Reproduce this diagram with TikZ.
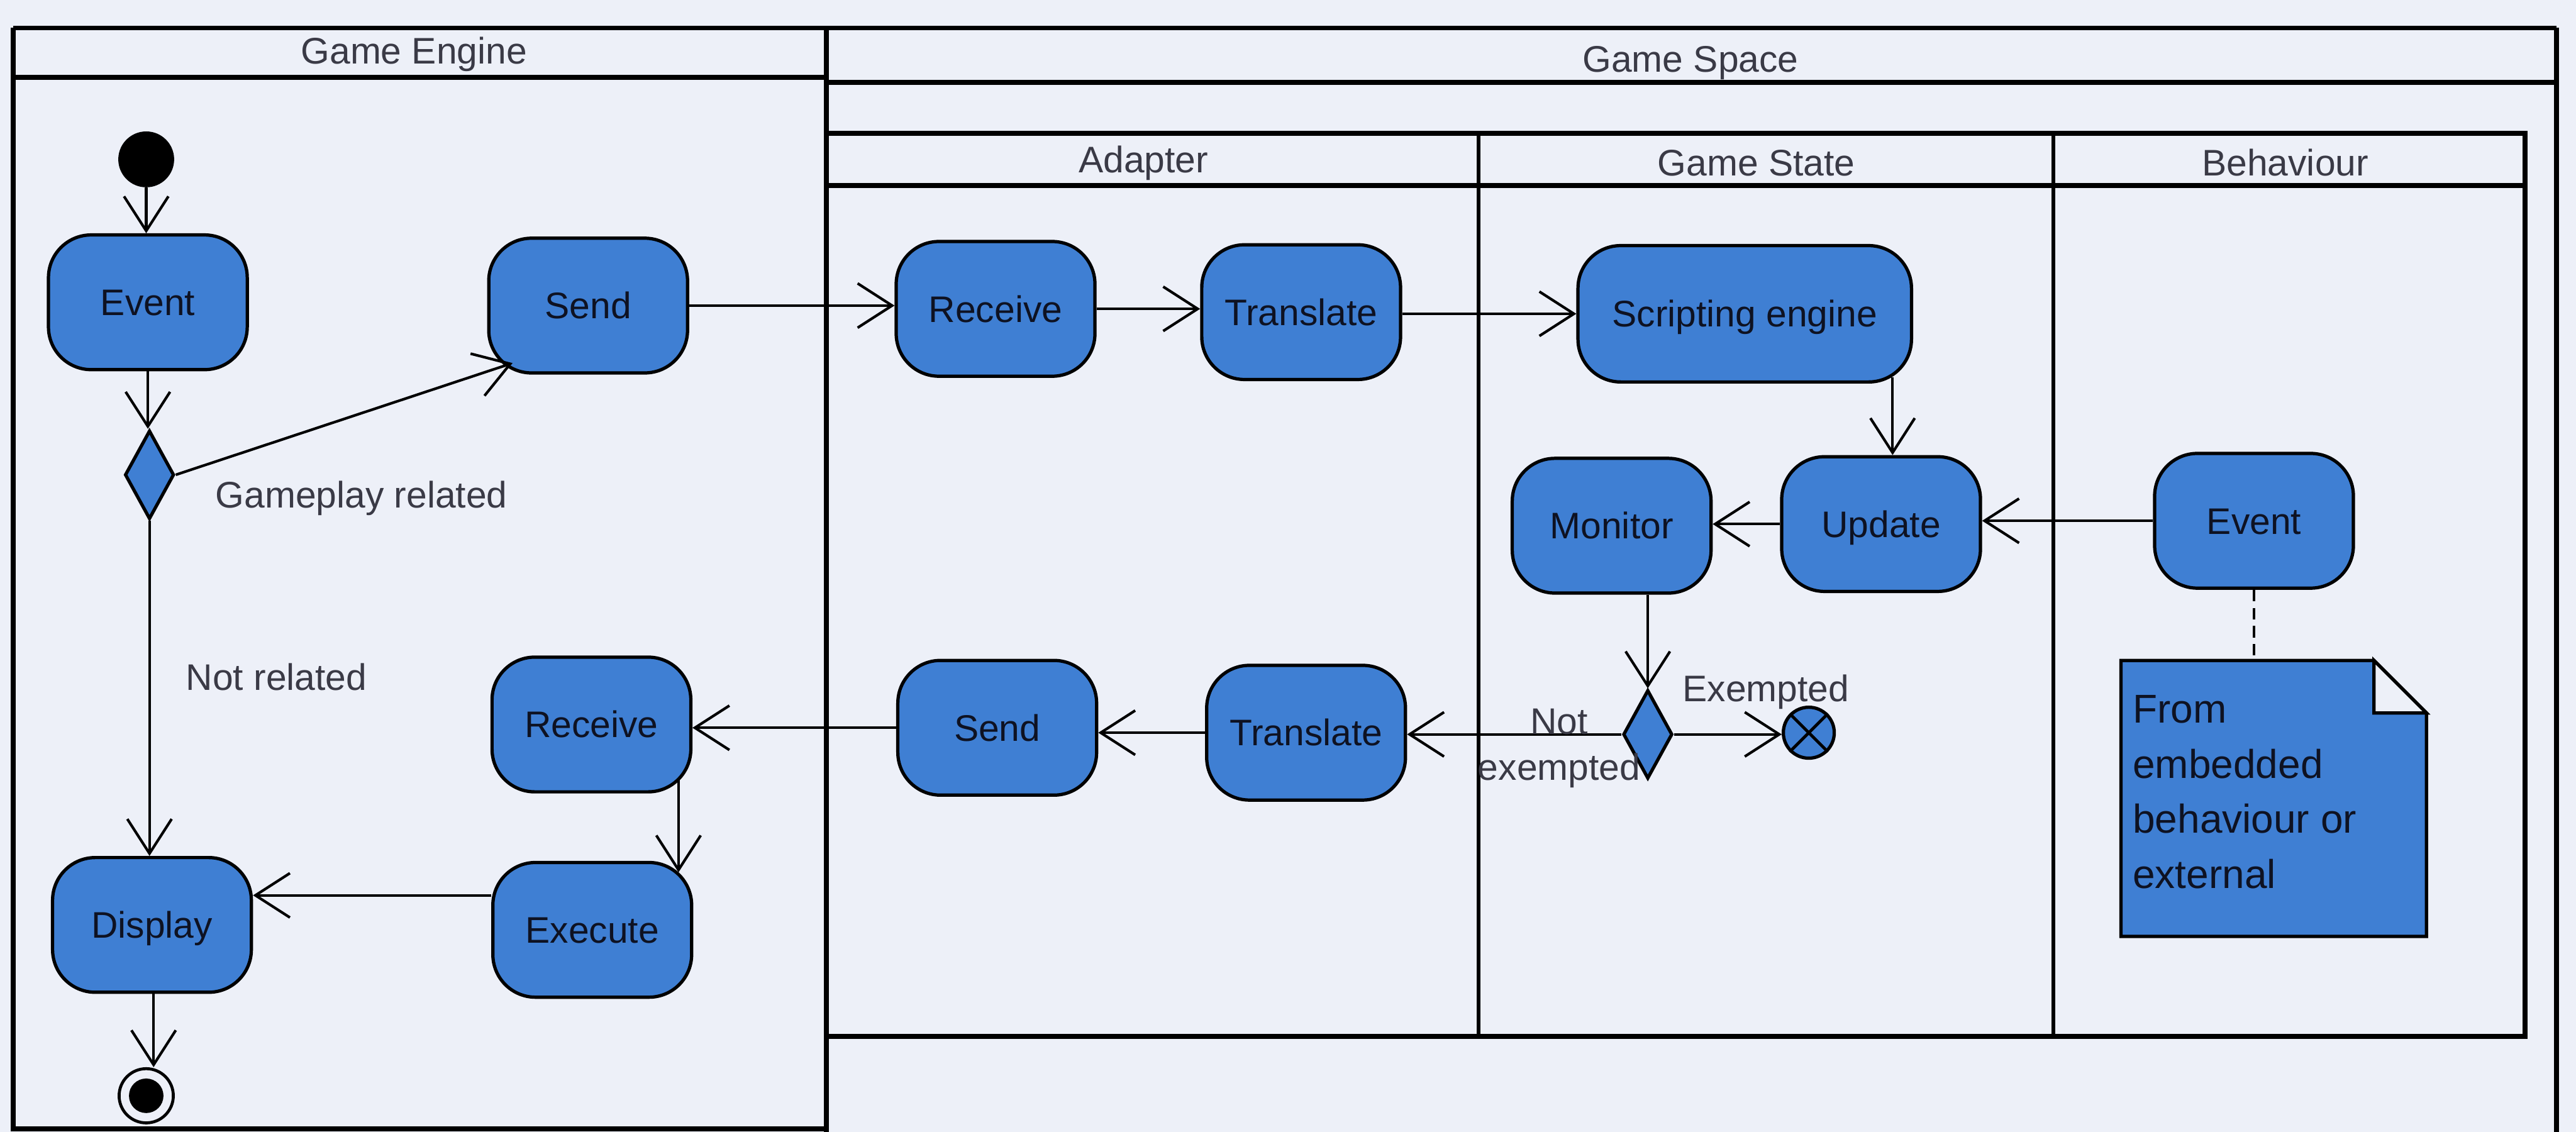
\documentclass[tikz,border=0pt]{standalone}
\usepackage{fontspec}
\setmainfont{Liberation Sans}
\usetikzlibrary{arrows.meta,calc,shapes.geometric}
\definecolor{bg}{RGB}{237,240,248}
\definecolor{actfill}{RGB}{63,127,211}
\definecolor{labgray}{RGB}{58,58,70}
\definecolor{txtdark}{RGB}{14,18,34}
\begin{document}
\begin{tikzpicture}[x=1pt,y=-1pt,
  frame/.style={line width=3pt,black},
  divider/.style={line width=2.4pt,black},
  action/.style={draw=black,line width=2pt,fill=actfill,rounded corners=26pt,
    minimum width=121pt,minimum height=82pt,inner sep=0pt,
    font=\fontsize{22.5}{26}\selectfont,text=txtdark,text height=16pt,text depth=0pt},
  decision/.style={draw=black,line width=2pt,fill=actfill,diamond,aspect=0.55,
    minimum width=30pt,minimum height=54pt,inner sep=0pt},
  hdr/.style={font=\fontsize{22.5}{26}\selectfont,text=labgray,inner sep=0pt},
  lab/.style={font=\fontsize{22.5}{26}\selectfont,text=labgray,inner sep=0pt},
  flow/.style={line width=1.6pt,black,-{Straight Barb[length=21pt,width=27pt]}},
  notetext/.style={font=\fontsize{24.5}{33.5}\selectfont,text=txtdark,inner sep=0pt,align=left}
]
\fill[bg] (0,0) rectangle (1568,689);
\useasboundingbox (0,0) rectangle (1568,689);

% ---------- swimlane frames ----------
\draw[frame] (8,17) -- (1556,17);
\draw[frame] (8,17) -- (8,687) -- (503,687);
\draw[frame] (503,17) -- (503,689);
\draw[frame] (1556,17) -- (1556,689);
\draw[frame] (8,47) -- (503,47);
\draw[frame] (503,50) -- (1556,50);
\draw[frame] (503,81) -- (1537,81) -- (1537,631) -- (503,631);
\draw[frame] (503,113) -- (1537,113);
\draw[divider] (900,81) -- (900,631);
\draw[divider] (1250,81) -- (1250,631);

% ---------- headers ----------
\node[hdr,anchor=base] (hGE) at (252,39) {Game Engine};
\node[hdr,anchor=base] (hGS) at (1029,44) {Game Space};
\node[hdr,anchor=base] (hAd) at (696,105) {Adapter};
\node[hdr,anchor=base] (hSt) at (1069,107) {Game State};
\node[hdr,anchor=base] (hBe) at (1391,107) {Behaviour};

% ---------- Game Engine lane ----------
\node[circle,fill=black,minimum size=34pt,inner sep=0pt] (init) at (89,97) {};
\node[action] (ev1) at (90,184) {Event};
\node[decision] (dec1) at (91,289) {};
\node[action] (send1) at (358,186) {Send};
\node[action] (recv1) at (360,441) {Receive};
\node[action] (exec) at (360.5,566) {Execute};
\node[action] (disp) at (92.5,563) {Display};
\node[circle,draw=black,line width=1.8pt,fill=bg,minimum size=33pt,inner sep=0pt] (final) at (89,667) {};
\node[circle,fill=black,minimum size=21pt,inner sep=0pt] (finalin) at (final.center) {};

% ---------- Adapter lane ----------
\node[action] (recv2) at (606,188) {Receive};
\node[action] (tr1) at (792,190) {Translate};
\node[action] (send2) at (607,443) {Send};
\node[action] (tr2) at (795,446) {Translate};

% ---------- Game State lane ----------
\node[action,minimum width=203pt,minimum height=83pt] (script) at (1062,191) {Scripting engine};
\node[action] (upd) at (1145,319) {Update};
\node[action] (mon) at (981,320) {Monitor};
\node[decision] (dec2) at (1003,447) {};
\node[circle,draw=black,line width=2pt,fill=actfill,minimum size=31pt,inner sep=0pt] (ff) at (1101,446) {};
\draw[line width=1.8pt] (ff.45) -- (ff.225) (ff.135) -- (ff.315);

% ---------- Behaviour lane ----------
\node[action] (evB) at (1372,317) {Event};
\filldraw[draw=black,line width=2pt,fill=actfill]
  (1291,402) -- (1445,402) -- (1477,434) -- (1477,570) -- (1291,570) -- cycle;
\filldraw[draw=black,line width=2pt,fill=bg] (1445,402) -- (1445,434) -- (1477,434) -- cycle;
\coordinate (notetop) at (1372,402);
\node[notetext,anchor=north west] (note) at (1298,423) {From\\embedded\\behaviour or\\external};
\draw[line width=1.6pt,dash pattern=on 7pt off 4pt] (evB.south) -- (notetop);

% ---------- connectors ----------
\draw[flow] (init.south) -- (init.south |- ev1.north);
\draw[flow] (ev1.south) -- (ev1.south |- dec1.north);
\draw[flow] (dec1.east) -- ($(send1.center)+(-46,35)$);
\draw[flow] (send1.east) -- (send1.east -| recv2.west);
\draw[flow] (recv2.east) -- (recv2.east -| tr1.west);
\draw[flow] ([yshift=-1pt]tr1.east) -- ([yshift=-1pt]tr1.east -| script.west);
\draw[flow] ([xshift=90pt,yshift=4pt]script.south) -- ([xshift=7pt]upd.north);
\draw[flow] (evB.west) -- (evB.west -| upd.east);
\draw[flow] (upd.west) -- (upd.west -| mon.east);
\draw[flow] (mon.south -| dec2.north) -- (dec2.north);
\draw[flow] (dec2.east) -- (dec2.east -| ff.west);
\draw[flow] (dec2.west) -- (dec2.west -| tr2.east);
\draw[flow] (tr2.west) -- (tr2.west -| send2.east);
\draw[flow] (send2.west) -- (send2.west -| recv1.east);
\draw[flow] ([xshift=53pt,yshift=9pt]recv1.south) -- ([xshift=52.5pt,yshift=-7pt]exec.north);
\draw[flow] ([yshift=21pt]exec.west) -- ([yshift=21pt]exec.west -| disp.east);
\draw[flow] (dec1.south) -- (dec1.south |- disp.north);
\draw[flow] ([xshift=1pt]disp.south) -- ([xshift=1pt]disp.south |- final.north);

% ---------- labels ----------
\node[lab,anchor=base west] (lGR) at (131,309) {Gameplay related};
\node[lab,anchor=base west] (lNR) at (113,420) {Not related};
\node[lab,anchor=base west] (lEx) at (1024,427) {Exempted};
\node[lab,align=center,font=\fontsize{22.5}{28}\selectfont] (lNE) at (949,455.5) {Not\\exempted};
\end{tikzpicture}
\end{document}
